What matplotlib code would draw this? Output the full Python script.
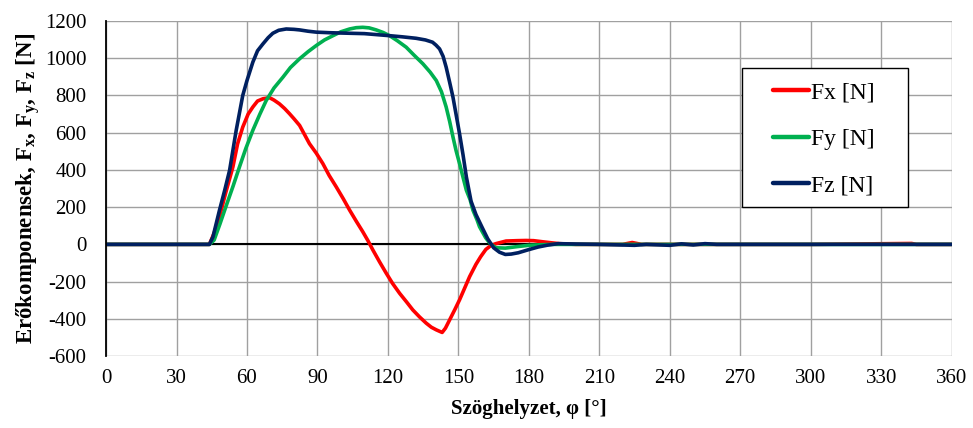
import numpy as np
import matplotlib
matplotlib.use("Agg")
import matplotlib.pyplot as plt
from matplotlib.patches import Rectangle

plt.rcParams["font.family"] = ["Liberation Serif", "DejaVu Serif"]
plt.rcParams["mathtext.fontset"] = "custom"
plt.rcParams["mathtext.rm"] = "Liberation Serif"
plt.rcParams["mathtext.bf"] = "Liberation Serif:bold"
plt.rcParams["mathtext.it"] = "Liberation Serif:italic"
plt.rcParams["axes.unicode_minus"] = False

# ------------------------------------------------------------
# Data (angle in deg, force in N)
# ------------------------------------------------------------
fx_phi = [0, 44, 46, 48.3, 51, 54, 56, 58.2, 60.5, 62.5, 64.5, 66.8, 69.6,
          71.5, 73.8, 76, 78.1, 80, 82.4, 84.5, 86.6, 89.5, 92.3, 95, 98,
          101, 103.7, 106.5, 109.3, 111.5, 113.6, 116.5, 119.3, 122, 125,
          128, 130.6, 133.5, 136.3, 138.5, 140.6, 143.1, 144.5, 146.3, 148.5,
          150.5, 152.5, 154.8, 157.5, 159.5, 161.7, 164, 166, 170.3, 175,
          178.8, 182, 185.9, 190, 193, 200, 220, 224, 228, 240, 300, 343,
          345, 360]
fx_val = [0, 0, 60, 148, 280, 416, 540, 630, 700, 738, 770, 782, 788,
          775, 755, 730, 702, 675, 639, 590, 541, 490, 434, 370, 309,
          245, 184, 125, 68, 20, -30, -95, -155, -210, -263,
          -310, -352, -390, -423, -445, -459, -473, -450, -405, -350,
          -298, -240, -173, -107, -66, -27, -5, 4, 18, 20,
          21, 20, 14, 8, 4, 0, 0, 10, 0, 0, 0, 5,
          0, 0]

fy_phi = [0, 44, 46, 48.5, 51, 54, 56.8, 59.5, 62.5, 65.5, 68.2, 71.5, 75.3,
          78.5, 82.4, 86, 89.5, 93, 96.6, 100, 103.7, 106.5, 109.3, 112, 115,
          118, 120.7, 124, 127.8, 131, 134.9, 138, 140.6, 142.8, 144.8, 146.3,
          147.7, 149, 150.5, 152, 153.4, 155, 156.2, 158, 159, 161.6, 163.5,
          165.9, 170, 175, 180, 185, 190, 195, 360]
fy_val = [0, 0, 23, 110, 202, 310, 416, 515, 613, 700, 773, 840, 898,
          950, 997, 1035, 1068, 1098, 1121, 1142, 1157, 1164, 1166, 1163, 1152,
          1138, 1121, 1094, 1059, 1018, 970, 925, 880, 820, 738, 660,
          577, 505, 434, 360, 291, 240, 184, 130, 95, 36, 5,
          -18, -20, -12, -5, -2, 0, 0, 0]

fz_phi = [0, 44, 45.5, 48.3, 50.5, 52.6, 55.4, 58.2, 60, 62.5, 64.5, 66.8,
          69, 71, 73.5, 76.7, 80, 82.4, 86, 89.5, 95, 103.7, 110, 120.7, 126,
          132, 136, 139, 140.5, 142, 143.5, 144.8, 146.3, 147.7, 149, 150.5,
          152, 153.4, 155.4, 157.5, 160.2, 162.5, 165, 167.5, 170, 172.5,
          175.5, 180, 184, 188, 192.5, 200, 210, 225, 230, 240, 245, 250, 255,
          260, 265, 360]
fz_val = [0, 0, 40, 184, 290, 398, 612, 800, 880, 979, 1040, 1077,
          1110, 1134, 1150, 1157, 1155, 1152, 1145, 1140, 1137, 1134, 1132, 1121, 1115,
          1107, 1098, 1086, 1070, 1050, 1010, 952, 870, 791, 700, 595,
          480, 363, 232, 160, 89, 30, -18, -42, -54, -52,
          -45, -28, -14, -4, 4, 2, 0, -5, 0, -5, 3, -3, 4,
          0, 0, 0]

series = [
    ("Fx [N]", fx_phi, fx_val, "#FF0000"),
    ("Fy [N]", fy_phi, fy_val, "#00B050"),
    ("Fz [N]", fz_phi, fz_val, "#002060"),
]

fig = plt.figure(figsize=(9.73, 4.28), dpi=100)
ax = fig.add_axes([0.109, 0.168, 0.869, 0.783])

ax.set_xlim(0, 360)
ax.set_ylim(-600, 1200)
ax.set_xticks(np.arange(0, 361, 30))
ax.set_yticks(np.arange(-600, 1201, 200))
ax.grid(True, color="#A0A0A0", linewidth=1.0)
ax.set_axisbelow(True)
ax.axhline(0, color="black", linewidth=1.5, zorder=1.5)

for label, phi, val, col in series:
    ax.plot(phi, val, color=col, linewidth=2.6, label=label,
            solid_capstyle="round", solid_joinstyle="round")

for side in ["top", "right", "bottom"]:
    ax.spines[side].set_visible(False)
ax.spines["left"].set_color("black")
ax.spines["left"].set_linewidth(1.3)
ax.tick_params(length=0, labelsize=15)
ax.tick_params(axis="x", pad=9)
ax.tick_params(axis="y", pad=14)

ax.set_xlabel("Szöghelyzet, φ [°]", fontsize=15, fontweight="bold", labelpad=8)
ax.set_ylabel(r"Erőkomponensek, F$_\mathbf{x}$, F$_\mathbf{y}$, F$_\mathbf{z}$ [N]",
              fontsize=16.5, fontweight="bold", labelpad=2)

# legend box drawn separately so the padding can match the original
ax.add_patch(Rectangle((0.752, 0.445), 0.196, 0.415, transform=ax.transAxes,
                       facecolor="white", edgecolor="black", linewidth=1.0,
                       zorder=4))
leg = ax.legend(loc="upper left", bbox_to_anchor=(0.789, 0.818), fontsize=17,
                frameon=False, borderpad=0, labelspacing=1.05,
                handlelength=1.5, handletextpad=0.1, borderaxespad=0)
leg.set_zorder(5)
for line in leg.get_lines():
    line.set_linewidth(3.2)

fig.savefig("out.png", dpi=100)
